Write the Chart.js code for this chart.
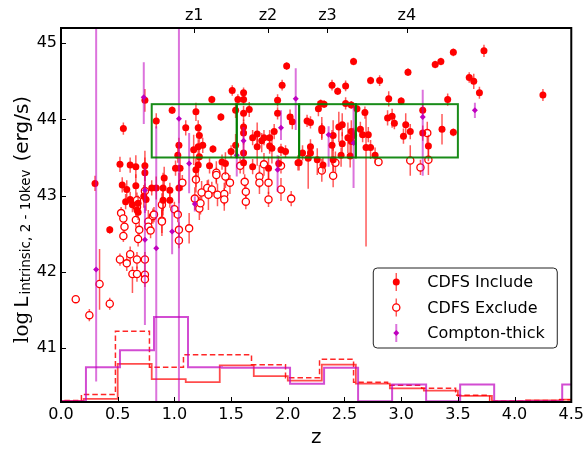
<!DOCTYPE html>
<html>
<head>
<meta charset="utf-8">
<script src="https://cdn.jsdelivr.net/npm/chart.js@4.4.0/dist/chart.umd.min.js"></script>
<style>
  html, body { margin: 0; padding: 0; background: #fff; }
</style>
</head>
<body>
<canvas id="grafica" width="587" height="451"></canvas>
<script>
// CDFS: log L intrinsic vs z

Chart.defaults.font.family = "'DejaVu Sans', sans-serif";
Chart.defaults.color = "#000";

const zTicks = [0, 0.5, 1.0, 1.5, 2.0, 2.5, 3.0, 3.5, 4.0, 4.5];
const lTicks = [41, 42, 43, 44, 45];

// caixes de redshift (verd) i etiquetes de dalt
const boxZ = [0.8, 1.55, 2.1, 2.6, 3.5];
const boxL = [43.5, 44.2];
const zNames = ["z1", "z2", "z3", "z4"];

// CDFS Include
const incZ = [0.30,0.43,0.55,0.52,0.54,0.58,0.57,0.61,0.66,0.66,0.74,0.74,0.74,0.73,0.75,0.68,0.67,0.84,0.80,0.84,
  0.90,0.91,0.90,0.96,0.96,0.98,1.04,1.03,1.01,1.05,1.04,1.10,1.19,1.21,1.22,1.21,1.22,1.21,1.19,1.17,
  1.25,1.31,1.33,1.34,1.41,1.42,1.45,1.50,1.51,1.54,1.54,1.56,1.61,1.61,1.61,1.61,1.61,1.61,1.61,1.66,
  1.69,1.69,1.73,1.73,1.77,1.79,1.84,1.84,1.86,1.83,1.92,1.91,1.91,1.88,1.95,1.99,1.94,1.98,2.02,2.04,2.09,
  2.58,2.39,2.44,2.51,2.73,2.81,3.06,3.30,3.35,3.46,3.73,3.60,3.64,3.69,4.25,3.41,2.89,3.00,2.27,2.29,
  2.32,2.51,2.56,2.61,2.68,2.17,2.20,2.30,2.30,2.45,2.48,2.40,2.48,2.53,2.56,2.58,2.64,2.66,2.71,2.69,
  2.73,2.77,2.39,2.20,2.20,2.13,2.18,2.10,2.26,2.31,2.40,2.47,2.55,2.88,2.92,2.94,3.02,3.04,3.08,3.19,
  3.19,3.24,3.36,3.46,2.56,0.61,0.63,0.68];
const incL = [43.16,42.55,43.88,43.41,43.14,43.08,42.92,42.95,43.13,43.38,44.25,43.39,43.30,42.99,42.95,42.90,42.81,43.98,43.10,43.10,
  43.10,43.23,42.94,43.07,42.94,44.12,43.66,43.53,43.36,43.36,43.10,43.89,44.10,43.89,43.79,43.64,43.51,43.40,43.34,43.60,
  43.66,43.39,44.26,43.61,44.03,43.44,43.42,43.58,44.38,44.12,43.66,44.26,44.35,44.26,44.08,43.82,43.90,43.56,43.43,44.13,
  43.76,43.38,43.81,43.64,43.72,43.76,43.76,43.65,43.62,43.36,43.42,44.25,44.08,43.84,44.45,44.70,43.60,43.58,44.03,43.97,43.43,
  44.76,44.45,44.37,44.44,44.51,44.51,44.62,44.72,44.76,44.88,44.90,44.55,44.50,44.35,44.32,44.26,44.27,44.24,44.14,44.21,
  44.20,44.21,44.19,44.14,44.09,43.98,43.96,43.88,43.85,43.90,43.93,43.79,43.68,43.76,43.84,43.79,43.87,43.80,43.80,43.63,
  43.63,43.53,43.66,43.64,43.56,43.56,43.49,43.43,43.47,43.40,43.47,43.53,43.52,44.02,44.04,43.95,43.78,43.93,43.84,44.12,
  43.82,43.65,43.87,43.83,43.71,43.40,42.88,42.78];
const incLo = [0.10,0.05,0.08,0.10,0.10,0.12,0.10,0.10,0.15,0.15,0.15,0.20,0.20,0.15,0.15,0.10,0.10,0.10,0.10,0.15,
  0.30,0.15,0.20,0.10,0.10,0.05,0.10,0.10,0.10,0.15,0.20,0.10,0.12,0.10,0.15,0.10,0.10,0.15,0.30,0.20,
  0.10,0.10,0.05,0.05,0.05,0.10,0.15,0.08,0.07,0.10,0.15,0.07,0.07,0.07,0.10,0.15,0.10,0.15,0.15,0.10,
  0.10,0.10,0.15,0.25,0.15,0.10,0.10,0.10,0.20,0.15,0.10,0.08,0.08,0.10,0.07,0.05,0.08,0.08,0.10,0.10,0.10,
  0.05,0.07,0.05,0.07,0.05,0.07,0.05,0.05,0.05,0.05,0.08,0.07,0.10,0.08,0.08,0.08,0.10,0.05,0.10,0.05,
  0.05,0.08,0.05,0.05,0.08,0.08,0.08,0.15,0.10,0.20,0.15,0.20,0.15,0.20,0.15,0.10,0.10,0.10,0.10,1.30,
  0.15,0.10,0.20,0.10,0.10,0.10,0.40,0.10,0.20,0.10,0.15,0.15,0.15,0.10,0.15,0.08,0.10,0.15,0.10,0.08,
  0.10,0.20,0.20,0.05,0.20,0.10,0.10,0.10];
const incHi = [0.10,0.05,0.08,0.10,0.10,0.12,0.10,0.10,0.15,0.15,0.15,0.20,0.20,0.15,0.15,0.10,0.10,0.10,0.10,0.15,
  0.20,0.15,0.15,0.10,0.10,0.05,0.10,0.10,0.10,0.15,0.20,0.10,0.12,0.10,0.15,0.10,0.10,0.15,0.15,0.20,
  0.10,0.10,0.05,0.05,0.05,0.10,0.15,0.08,0.07,0.10,0.15,0.07,0.07,0.07,0.10,0.15,0.10,0.15,0.15,0.10,
  0.10,0.10,0.15,0.15,0.10,0.10,0.10,0.10,0.20,0.15,0.10,0.08,0.08,0.10,0.07,0.05,0.08,0.08,0.10,0.10,0.10,
  0.05,0.07,0.05,0.07,0.05,0.07,0.05,0.05,0.05,0.05,0.08,0.07,0.10,0.08,0.08,0.08,0.10,0.05,0.10,0.05,
  0.05,0.08,0.05,0.05,0.08,0.08,0.08,0.15,0.10,0.20,0.15,0.20,0.15,0.20,0.15,0.10,0.10,0.10,0.10,0.50,
  0.10,0.10,0.20,0.10,0.10,0.10,0.15,0.10,0.15,0.10,0.20,0.10,0.15,0.10,0.10,0.08,0.10,0.15,0.10,0.08,
  0.10,0.15,0.20,0.05,0.15,0.10,0.10,0.10];

// CDFS Exclude
const excZ = [0.53,0.55,0.67,0.67,0.66,0.74,0.81,0.77,0.89,0.89,1.00,1.03,1.07,1.19,1.18,1.22,1.23,1.24,1.29,1.33,
  1.30,1.38,1.37,1.37,1.44,1.44,1.45,1.49,1.58,1.62,1.63,1.63,1.75,1.75,1.79,1.83,1.83,1.94,1.94,2.03,
  2.30,2.40,2.42,2.80,3.08,3.17,3.23,3.24,0.13,0.25,0.34,0.43,0.52,0.58,0.61,0.63,0.55,0.56,0.67,0.67,
  0.68,0.69,0.74,0.74,0.74,0.77,0.79,0.89,1.04,1.04,1.13,0.82];
const excL = [42.77,42.70,42.94,42.85,42.68,43.06,42.73,42.66,42.88,42.67,42.82,42.75,43.17,43.21,42.96,42.83,42.90,43.04,43.10,43.08,
  43.01,43.01,43.30,43.27,43.02,42.95,43.25,43.17,43.39,43.18,43.05,42.92,43.25,43.17,43.41,43.17,42.95,43.39,43.08,42.96,
  43.33,43.26,43.43,43.44,43.46,43.37,43.82,43.47,41.64,41.43,41.84,41.58,42.16,42.11,42.23,41.97,42.47,42.59,42.16,41.97,
  42.43,42.55,42.16,41.96,41.90,42.59,42.54,42.66,42.55,42.41,42.57,42.75];
const excLo = [0.08,0.05,0.10,0.10,0.10,0.10,0.10,0.15,0.15,0.20,0.10,0.10,0.10,0.10,0.15,0.15,0.15,0.15,0.10,0.10,
  0.20,0.15,0.15,0.10,0.15,0.15,0.15,0.15,0.10,0.10,0.10,0.10,0.15,0.15,0.15,0.15,0.10,0.10,0.15,0.10,
  0.15,0.15,0.15,0.05,0.20,0.10,0.20,0.20,0.03,0.08,0.34,0.08,0.08,0.10,0.10,0.25,0.08,0.10,0.12,0.10,
  0.10,0.10,0.10,0.10,0.10,0.10,0.10,0.15,0.10,0.10,0.20,0.10];
const excHi = [0.08,0.05,0.10,0.10,0.10,0.10,0.10,0.15,0.15,0.20,0.10,0.10,0.10,0.10,0.15,0.15,0.15,0.15,0.10,0.10,
  0.20,0.15,0.15,0.10,0.15,0.15,0.15,0.10,0.10,0.10,0.10,0.10,0.15,0.15,0.15,0.15,0.10,0.10,0.15,0.10,
  0.15,0.15,0.15,0.05,0.20,0.10,0.15,0.20,0.03,0.08,0.46,0.08,0.08,0.10,0.10,0.10,0.08,0.10,0.10,0.10,
  0.10,0.10,0.10,0.10,0.10,0.10,0.10,0.15,0.10,0.10,0.20,0.10];

// Compton-thick
const ctZ  = [0.31,0.73,0.74,0.74,0.84,0.98,1.04,1.13,1.18,1.55,1.61,1.94,2.07,1.91,2.36,2.58,3.19,3.65];
const ctL  = [42.03,44.29,43.07,42.42,42.31,42.53,44.01,43.42,42.89,43.53,43.72,43.89,44.27,43.34,43.80,43.69,44.03,44.12];
const ctLo = [1.47,0.35,0.30,1.12,2.10,0.30,3.80,0.39,0.10,0.28,0.25,0.16,0.41,0.29,0.42,0.59,0.77,0.10];
const ctHi = [4.00,0.46,0.30,0.45,1.60,0.35,2.00,0.40,0.10,0.11,0.18,0.23,0.40,0.19,0.11,0.48,0.36,0.10];

// histogrames (nivell en unitats de l'eix y)
const binsInc = [-0.1,0.2,0.5,0.8,1.1,1.4,1.7,2.0,2.3,2.6,2.9,3.2,3.5,3.8,4.1,4.4,4.7];
const histInc = [40.305,40.33,40.79,40.59,40.55,40.77,40.63,40.57,40.78,40.53,40.47,40.44,40.37,40.30,40.31,40.32];
const binsAll = [-0.12,0.18,0.48,0.78,1.08,1.38,1.68,1.98,2.28,2.58,2.88,3.18,3.48,3.78,4.08,4.38,4.68];
const histAll = [40.31,40.39,41.22,40.745,40.91,40.91,40.78,40.61,40.85,40.55,40.51,40.47,40.38,40.30,40.31,40.32];
const binsCT = [-0.08,0.22,0.52,0.82,1.12,1.42,1.72,2.02,2.32,2.62,2.92,3.22,3.52,3.82,4.12,4.42,4.72];
const histCT = [40.30,40.745,40.97,41.405,40.745,40.74,40.74,40.53,40.74,40.30,40.52,40.30,40.52,40.30,40.30,40.52];

function punts(zs, ls) {
  return zs.map((z, i) => ({ x: z, y: ls[i] }));
}
function escala(edges, vals) {
  const p = vals.map((v, i) => ({ x: edges[i], y: v }));
  p.push({ x: edges[edges.length - 1], y: vals[vals.length - 1] });
  return p;
}

const zMid = zNames.map((n, i) => (boxZ[i] + boxZ[i + 1]) / 2);

const errPlugin = {
  id: "errPlugin",
  beforeDatasetDraw(chart, args) {
    const ds = chart.data.datasets[args.index];
    if (!ds.errLo) return;
    const ctx = chart.ctx, a = chart.chartArea;
    const sx = chart.scales.x, sy = chart.scales.y;
    ctx.save();
    ctx.beginPath();
    ctx.rect(a.left, a.top, a.right - a.left, a.bottom - a.top);
    ctx.clip();
    ctx.strokeStyle = ds.errColor;
    ctx.lineWidth = ds.errWidth;
    ds.data.forEach((p, i) => {
      const px = sx.getPixelForValue(p.x);
      ctx.beginPath();
      ctx.moveTo(px, sy.getPixelForValue(p.y - ds.errLo[i]));
      ctx.lineTo(px, sy.getPixelForValue(p.y + ds.errHi[i]));
      ctx.stroke();
    });
    ctx.restore();
  },
  afterDatasetsDraw(chart) {
    // caixes verdes
    const ctx = chart.ctx;
    const sx = chart.scales.x, sy = chart.scales.y;
    ctx.save();
    ctx.strokeStyle = "rgba(0,128,0,0.9)";
    ctx.lineWidth = 2;
    const y0 = sy.getPixelForValue(boxL[1]), y1 = sy.getPixelForValue(boxL[0]);
    for (let i = 0; i < boxZ.length - 1; i++) {
      const x0 = sx.getPixelForValue(boxZ[i]), x1 = sx.getPixelForValue(boxZ[i + 1]);
      ctx.strokeRect(x0, y0, x1 - x0, y1 - y0);
    }
    ctx.restore();
  },
  afterDraw(chart) {
    const ctx = chart.ctx, a = chart.chartArea;
    const sx = chart.scales.x, sy = chart.scales.y, st = chart.scales.x2;
    ctx.save();
    // ticks cap a dins
    ctx.strokeStyle = "#000";
    ctx.lineWidth = 1;
    ctx.beginPath();
    sx.ticks.forEach(t => {
      const p = Math.round(sx.getPixelForValue(t.value)) + 0.5;
      ctx.moveTo(p, a.bottom); ctx.lineTo(p, a.bottom - 5);
    });
    st.ticks.forEach(t => {
      const p = Math.round(st.getPixelForValue(t.value)) + 0.5;
      ctx.moveTo(p, a.top); ctx.lineTo(p, a.top + 5);
    });
    sy.ticks.forEach(t => {
      const p = Math.round(sy.getPixelForValue(t.value)) + 0.5;
      ctx.moveTo(a.left, p); ctx.lineTo(a.left + 5, p);
    });
    ctx.stroke();
    // marc
    ctx.lineWidth = 2;
    ctx.strokeRect(a.left, a.top, a.right - a.left, a.bottom - a.top);

    // titol eix y: log L_{intrinsic, 2-10kev} (erg/s)
    const trossos = [
      { t: "log", f: "20px 'DejaVu Serif'", dy: 0, gap: 4 },
      { t: "L", f: "20px 'DejaVu Sans'", dy: 0, gap: 2 },
      { t: "intrinsic, 2 - 10kev", f: "13.5px 'DejaVu Sans'", dy: 1.5, gap: 8 },
      { t: "(erg/s)", f: "20px 'DejaVu Sans'", dy: 0, gap: 0 }
    ];
    ctx.translate(28, 343);
    ctx.rotate(-Math.PI / 2);
    ctx.fillStyle = "#000";
    ctx.textBaseline = "alphabetic";
    ctx.textAlign = "left";
    let xx = 0;
    trossos.forEach(p => {
      ctx.font = p.f;
      ctx.fillText(p.t, xx, p.dy);
      xx += ctx.measureText(p.t).width + p.gap;
    });
    ctx.restore();

    // llegenda
    ctx.save();
    const bw = 184, bh = 80;
    const bx = a.right - 14 - bw, by = a.bottom - 54 - bh;
    const r = 4;
    ctx.beginPath();
    ctx.moveTo(bx + r, by);
    ctx.arcTo(bx + bw, by, bx + bw, by + bh, r);
    ctx.arcTo(bx + bw, by + bh, bx, by + bh, r);
    ctx.arcTo(bx, by + bh, bx, by, r);
    ctx.arcTo(bx, by, bx + bw, by, r);
    ctx.closePath();
    ctx.fillStyle = "#fff";
    ctx.fill();
    ctx.strokeStyle = "#222";
    ctx.lineWidth = 1;
    ctx.stroke();

    const ordre = [1, 2, 0];
    ordre.forEach((di, k) => {
      const ds = chart.data.datasets[di];
      const my = by + 14 + k * 25.5;
      const mx = bx + 23;
      ctx.strokeStyle = ds.errColor;
      ctx.lineWidth = ds.errWidth;
      ctx.beginPath();
      ctx.moveTo(mx, my - 9); ctx.lineTo(mx, my + 9);
      ctx.stroke();
      ctx.beginPath();
      if (ds.pointStyle === "rectRot") {
        const rr = ds.pointRadius;
        ctx.moveTo(mx, my - rr); ctx.lineTo(mx + rr, my); ctx.lineTo(mx, my + rr); ctx.lineTo(mx - rr, my);
        ctx.closePath();
      } else {
        ctx.arc(mx, my, ds.pointRadius, 0, Math.PI * 2);
      }
      ctx.fillStyle = ds.backgroundColor;
      ctx.fill();
      if (ds.borderWidth > 0) {
        ctx.strokeStyle = ds.borderColor;
        ctx.lineWidth = ds.borderWidth;
        ctx.stroke();
      }
      ctx.fillStyle = "#000";
      ctx.font = "16px 'DejaVu Sans'";
      ctx.textBaseline = "middle";
      ctx.fillText(ds.label, bx + 54, my + 1);
    });
    ctx.restore();
  }
};

const data = {
  datasets: [
    {
      label: "Compton-thick",
      data: punts(ctZ, ctL),
      pointStyle: "rectRot",
      pointRadius: 3,
      backgroundColor: "#bf00bf",
      borderColor: "#bf00bf",
      borderWidth: 0,
      errLo: ctLo, errHi: ctHi,
      errColor: "rgba(191,0,191,0.55)", errWidth: 2
    },
    {
      label: "CDFS Include",
      data: punts(incZ, incL),
      pointStyle: "circle",
      pointRadius: 3.5,
      backgroundColor: "#ff0000",
      borderColor: "#ff0000",
      borderWidth: 0,
      errLo: incLo, errHi: incHi,
      errColor: "rgba(255,0,0,0.65)", errWidth: 1.5
    },
    {
      label: "CDFS Exclude",
      data: punts(excZ, excL),
      pointStyle: "circle",
      pointRadius: 3.6,
      backgroundColor: "#ffffff",
      borderColor: "#ff0000",
      borderWidth: 1.3,
      errLo: excLo, errHi: excHi,
      errColor: "rgba(255,0,0,0.65)", errWidth: 1.5
    },
    {
      label: "hist CT",
      data: escala(binsCT, histCT),
      showLine: true, stepped: true, pointRadius: 0,
      borderColor: "rgba(191,0,191,0.7)", borderWidth: 2
    },
    {
      label: "hist Include",
      data: escala(binsInc, histInc),
      showLine: true, stepped: true, pointRadius: 0,
      borderColor: "rgba(255,0,0,0.7)", borderWidth: 1.8
    },
    {
      label: "hist All",
      data: escala(binsAll, histAll),
      showLine: true, stepped: true, pointRadius: 0,
      borderColor: "rgba(255,0,0,0.85)", borderWidth: 1.5,
      borderDash: [5.5, 3]
    }
  ]
};

const config = {
  type: "scatter",
  data: data,
  options: {
    responsive: false,
    animation: false,
    devicePixelRatio: 1,
    layout: { padding: { left: 0, right: 14, top: 0, bottom: 0 } },
    plugins: { legend: { display: false }, tooltip: { enabled: false } },
    scales: {
      x: {
        type: "linear", position: "bottom", min: 0, max: 4.5,
        afterBuildTicks: s => { s.ticks = zTicks.map(v => ({ value: v })); },
        ticks: { callback: v => v.toFixed(1), font: { size: 16 }, padding: 3, maxRotation: 0, autoSkip: false },
        grid: { display: false, drawTicks: false },
        border: { display: false },
        title: { display: true, text: "z", font: { size: 20 }, padding: { top: 0, bottom: 1 } },
        afterFit: s => { s.height = 49; }
      },
      x2: {
        type: "linear", position: "top", min: 0, max: 4.5,
        afterBuildTicks: s => { s.ticks = zMid.map(v => ({ value: v })); },
        ticks: { callback: (v, i) => zNames[i], font: { size: 16 }, padding: 3, maxRotation: 0, autoSkip: false },
        grid: { display: false, drawTicks: false },
        border: { display: false },
        afterFit: s => { s.height = 28; }
      },
      y: {
        type: "linear", min: 40.29, max: 45.2,
        afterBuildTicks: s => { s.ticks = lTicks.map(v => ({ value: v })); },
        ticks: { callback: v => String(v), font: { size: 16 }, padding: 4 },
        grid: { display: false, drawTicks: false },
        border: { display: false },
        afterFit: s => { s.width = 61; }
      }
    }
  },
  plugins: [errPlugin]
};

const grafica = document.getElementById("grafica");
let myChart = new Chart(grafica, config);
</script>
</body>
</html>
